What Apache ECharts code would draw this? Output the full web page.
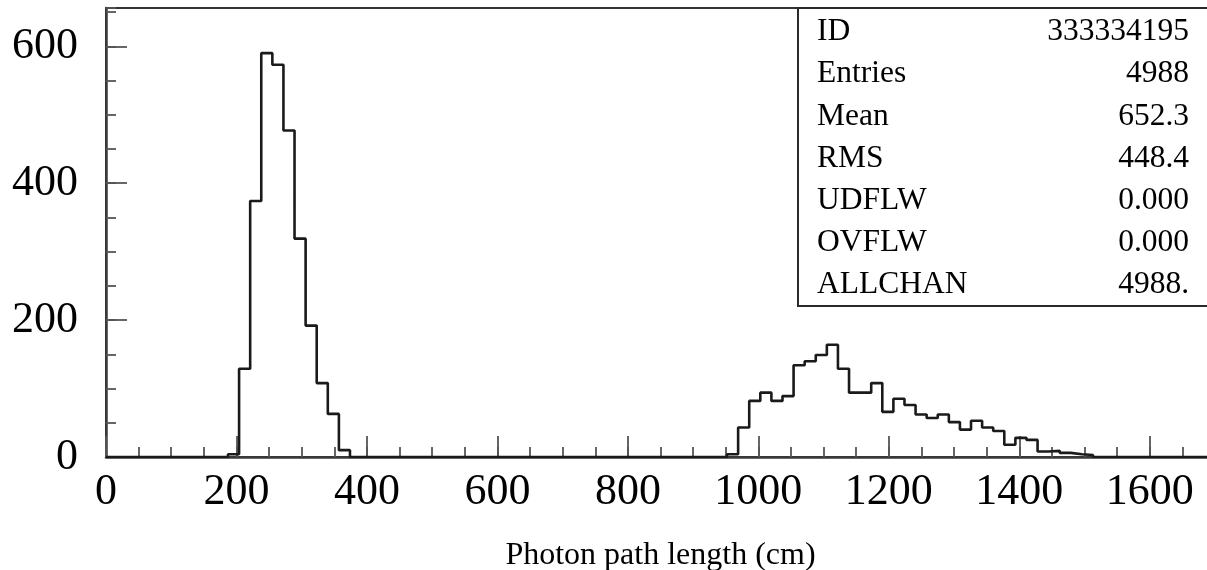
<!DOCTYPE html>
<html>
<head>
<meta charset="utf-8">
<title>Photon path length</title>
<script src="https://cdn.jsdelivr.net/npm/echarts@6/dist/echarts.min.js"></script>
<style>
  html, body { margin: 0; padding: 0; background: #fff; overflow: hidden; }
  #chart { width: 1215px; height: 570px; }
</style>
</head>
<body>
<div id="chart"></div>
<script>
// Histogram: 100 bins of 17 cm covering 0..1700 cm
const BIN_WIDTH = 17;
const BIN_COUNT = 100;

// Entries per bin (bin i covers [17*i, 17*i + 17))
const counts = [
  0, 0, 0, 0, 0, 0, 0, 0, 0, 0,          // 0 - 170
  0, 4, 129, 374, 590, 573, 477, 319, 192, 108, // 170 - 340
  63, 10, 0, 0, 0, 0, 0, 0, 0, 0,        // 340 - 510
  0, 0, 0, 0, 0, 0, 0, 0, 0, 0,          // 510 - 680
  0, 0, 0, 0, 0, 0, 0, 0, 0, 0,          // 680 - 850
  0, 0, 0, 0, 0, 0, 4, 43, 82, 94,       // 850 - 1020
  82, 89, 134, 140, 149, 164, 129, 94, 94, 108, // 1020 - 1190
  66, 85, 76, 62, 57, 62, 51, 40, 53, 43, // 1190 - 1360
  38, 18, 28, 25, 8, 9, 6, 4, 3, 0,      // 1360 - 1530
  0, 0, 0, 0, 0, 0, 0, 0, 0, 0           // 1530 - 1700
];

// Statistics box
const statsLabels = ['ID', 'Entries', 'Mean', 'RMS', 'UDFLW', 'OVFLW', 'ALLCHAN'];
const statsValues = ['333334195', '4988', '652.3', '448.4', '0.000', '0.000', '4988.'];

const xTitle = 'Photon path length (cm)';

// Step outline points: each bin's low edge with its count, closed at the upper edge
const stepPoints = counts.map((c, i) => [i * BIN_WIDTH, c]);
stepPoints.push([BIN_COUNT * BIN_WIDTH, counts[BIN_COUNT - 1]]);

const SERIF = "'Liberation Serif', 'DejaVu Serif', serif";
const AXIS_COLOR = '#3a3a3a';
const TICK_COLOR = '#555';
const plainNumber = v => String(v);

const chart = echarts.init(document.getElementById('chart'), null, { renderer: 'canvas' });

const statsGraphics = [];
statsGraphics.push({
  type: 'rect',
  left: 797, top: 7,
  shape: { x: 0, y: 0, width: 500, height: 298 },
  style: { fill: '#fff', stroke: '#2a2a2a', lineWidth: 2 },
  z: 10
});
statsLabels.forEach((lab, i) => {
  const yc = 32 + i * 42.2;
  statsGraphics.push({
    type: 'text', x: 817, y: yc, z: 11,
    style: { text: lab, font: '31.5px ' + SERIF, fill: '#000',
             textAlign: 'left', textVerticalAlign: 'middle' }
  });
  statsGraphics.push({
    type: 'text', x: 1189, y: yc, z: 11,
    style: { text: statsValues[i], font: '31.5px ' + SERIF, fill: '#000',
             textAlign: 'right', textVerticalAlign: 'middle' }
  });
});

const option = {
  animation: false,
  backgroundColor: '#fff',
  grid: {
    left: 106, right: 0, top: 8, bottom: 113,
    outerBoundsMode: 'none',
    containLabel: false,
    show: true, borderColor: '#333', borderWidth: 2, backgroundColor: 'transparent'
  },
  xAxis: [
    {
      type: 'value', min: 0, max: 1700, interval: 200,
      position: 'bottom',
      axisLine: { show: true, onZero: false, lineStyle: { color: AXIS_COLOR, width: 2.5 } },
      axisTick: { show: true, inside: true, length: 21, lineStyle: { color: TICK_COLOR, width: 1.8 } },
      axisLabel: { show: true, showMaxLabel: false, margin: 13, formatter: plainNumber,
                   fontFamily: SERIF, fontSize: 44, color: '#000' },
      splitLine: { show: false },
      name: xTitle, nameLocation: 'middle', nameGap: 83,
      nameTextStyle: { fontFamily: SERIF, fontSize: 32, color: '#000' }
    },
    {
      type: 'value', min: 0, max: 1700, interval: 50,
      position: 'bottom',
      axisLine: { show: false, onZero: false },
      axisTick: { show: true, inside: true, length: 10, lineStyle: { color: TICK_COLOR, width: 1.8 } },
      axisLabel: { show: false },
      splitLine: { show: false }
    }
  ],
  yAxis: [
    {
      type: 'value', min: 0, max: 656, interval: 200,
      position: 'left',
      axisLine: { show: true, onZero: false, lineStyle: { color: AXIS_COLOR, width: 2.5 } },
      axisTick: { show: true, inside: true, length: 21, lineStyle: { color: TICK_COLOR, width: 1.8 } },
      axisLabel: { show: true, showMaxLabel: false, margin: 28, formatter: plainNumber,
                   fontFamily: SERIF, fontSize: 44, color: '#000' },
      splitLine: { show: false }
    },
    {
      type: 'value', min: 0, max: 656, interval: 50,
      position: 'left', offset: 0,
      axisLine: { show: false, onZero: false },
      axisTick: { show: true, inside: true, length: 10, lineStyle: { color: TICK_COLOR, width: 1.8 } },
      axisLabel: { show: false },
      splitLine: { show: false }
    }
  ],
  series: [
    {
      type: 'line',
      xAxisIndex: 0, yAxisIndex: 0,
      data: stepPoints,
      step: 'end',
      showSymbol: false,
      symbol: 'none',
      lineStyle: { color: '#1a1a1a', width: 2.6 },
      z: 3
    }
  ],
  graphic: statsGraphics
};

chart.setOption(option);
</script>
</body>
</html>
